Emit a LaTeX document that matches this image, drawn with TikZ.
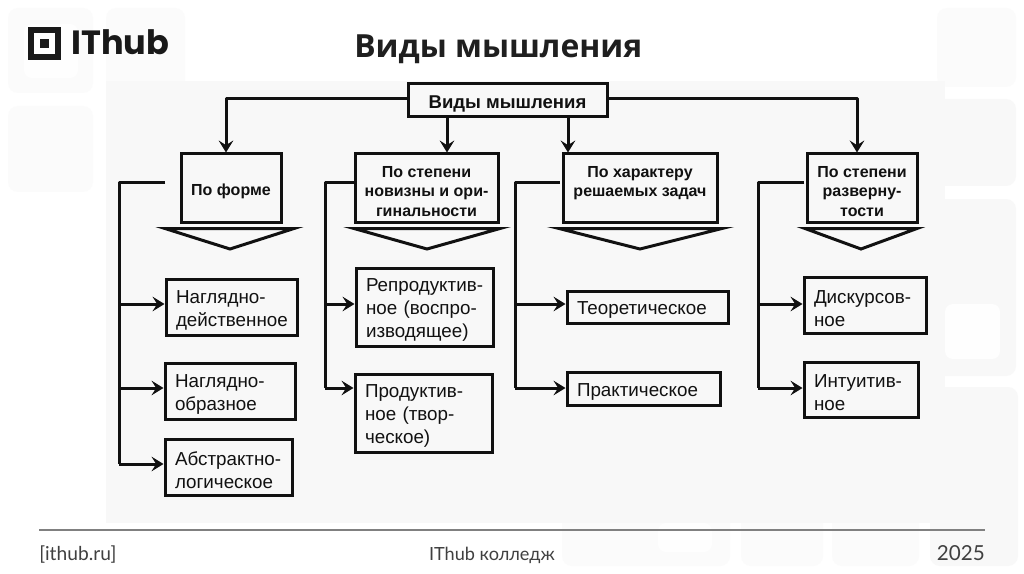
\documentclass[tikz,border=0pt]{standalone}
\usepackage{fontspec}
\setmainfont{Liberation Sans}
\newfontfamily\titlefont{Open Sans}
\newfontfamily\logofont{Poppins}
\newfontfamily\footfont{Lato}
\usetikzlibrary{arrows.meta,calc}
\definecolor{panel}{HTML}{F8F8F8}
\definecolor{tile}{HTML}{FBFBFB}
\definecolor{soft}{HTML}{FEFEFE}
\definecolor{ink}{HTML}{111111}
\tikzset{
  x=0.75pt,y=-0.75pt,
  tilebox/.style={fill=tile,draw=none,rounded corners=7.5pt},
  sidebox/.style={fill=panel,draw=none,rounded corners=7.5pt},
  whitebox/.style={fill=soft,draw=none,rounded corners=6pt},
  headbox/.style 2 args={draw=ink,line width=2.25pt,align=center,inner sep=0pt,
    minimum width=#1*0.75pt,minimum height=#2*0.75pt,font=\fontsize{12}{14.6}\selectfont\bfseries,text=ink},
  leafbox/.style 2 args={draw=ink,line width=2.25pt,align=left,inner sep=0pt,anchor=center,
    text width=#1*0.75pt-15pt,inner xsep=7.5pt,minimum height=#2*0.75pt,font=\fontsize{14.1}{17.2}\selectfont,text=ink},
  conn/.style={draw=ink,line width=2.25pt,line join=round},
  arr/.style={conn,-{Stealth[length=9pt,width=11pt,inset=3.5pt]}},
  chev/.style={draw=ink,line width=2.25pt,line join=miter,fill=panel},
  footer/.style={font=\footfont,text=black!75,inner sep=0pt},
}
\newcommand{\hdstrut}{\rule{0pt}{13pt}}
\newcommand{\lfstrut}{\rule{0pt}{14.5pt}}
\begin{document}
\begin{tikzpicture}
\useasboundingbox (0,0) rectangle (1024,574);
\fill[white] (0,0) rectangle (1024,574);
% faint backdrop
\fill[tilebox] (8,8) rectangle (93,93);
\fill[tilebox] (106,8) rectangle (185,90);
\fill[tilebox] (8,106) rectangle (93,192);
\fill[tilebox] (937,8) rectangle (1016,87);
\fill[sidebox] (930,99) rectangle (1016,186);
\fill[sidebox] (930,199) rectangle (1016,376);
\fill[sidebox] (930,387) rectangle (1018,566);
\fill[tilebox] (562,500) rectangle (730,566);
\fill[tilebox] (741,500) rectangle (823,566);
\fill[tilebox] (832,500) rectangle (919,566);
\fill[panel] (106,81) rectangle (945,523);
\fill[whitebox] (24,24) rectangle (78,78);
\fill[whitebox] (945,304) rectangle (1000,359);
\fill[whitebox] (658,523) rectangle (712,552);
% logo
\draw[black!90,line width=4.5pt] (31,30) rectangle (58,57);
\fill[black!90] (40,39) rectangle (49,48);
\node[anchor=base west,inner sep=0pt,font=\logofont\fontsize{25.2}{28}\selectfont\bfseries,text=black!90] (logo) at (71,55) {IThub};
% title
\node[anchor=base west,inner sep=0pt,font=\titlefont\fontsize{23.9}{28}\selectfont\bfseries,text=black!88] (title) at (354,58) {Виды мышления};
% root
\node[headbox={199}{33},font=\fontsize{13.9}{15}\selectfont\bfseries] (root) at (507.5,100.5) {\rule{0pt}{14.5pt}Виды мышления};
% heads
\node[headbox={100}{68}] (h1) at (231,188) {\hdstrut По форме};
\node[headbox={143}{68}] (h2) at (426.5,188) {\hdstrut По степени\\новизны и ори-\\гинальности};
\node[headbox={154}{68}] (h3) at (640,188) {\hdstrut По характеру\\решаемых задач\\\phantom{x}};
\node[headbox={110}{68}] (h4) at (862,188) {\hdstrut По степени\\разверну-\\тости};
% chevrons
\draw[chev] (165,228.5) -- (294,228.5) -- (230,249) -- cycle;
\draw[chev] (354,228.5) -- (500,228.5) -- (427,249) -- cycle;
\draw[chev] (559,228.5) -- (722,228.5) -- (640,249) -- cycle;
\draw[chev] (805,228.5) -- (917,228.5) -- (861,249) -- cycle;
% leaves
\node[leafbox={131}{56}] (a1) at (231.5,307) {\lfstrut Наглядно-\\действенное};
\node[leafbox={130}{56}] (a2) at (230,391) {\lfstrut Наглядно-\\образное};
\node[leafbox={127}{56}] (a3) at (228.5,467) {\lfstrut Абстрактно-\\логическое};
\node[leafbox={137}{78}] (b1) at (424.5,307) {\lfstrut\mbox{Репродуктив-}\\ное (воспро-\\изводящее)};
\node[leafbox={137}{78}] (b2) at (423.5,413) {\lfstrut Продуктив-\\ное (твор-\\ческое)};
\node[leafbox={161}{32}] (c1) at (647.5,307) {\lfstrut Теоретическое};
\node[leafbox={153}{33}] (c2) at (643.5,388.5) {\lfstrut Практическое};
\node[leafbox={122}{56}] (d1) at (865,305) {\lfstrut Дискурсов-\\ное};
\node[leafbox={114}{55}] (d2) at (861,389.5) {\lfstrut Интуитив-\\ное};
% top connectors
\coordinate (rl) at (226,99);
\coordinate (rr) at (857,99);
\coordinate (rm1) at (447,117);
\coordinate (rm2) at (568,117);
\draw[arr] (root.west |- rl) -- (rl) -- (rl |- h1.north);
\draw[arr] (root.east |- rr) -- (rr) -- (rr |- h4.north);
\draw[arr] (rm1) -- (rm1 |- h2.north);
\draw[arr] (rm2) -- (rm2 |- h3.north);
% bus 1
\coordinate (s1) at (165,183);
\coordinate (t1) at (119,183);
\coordinate (j1a) at (119,304);
\coordinate (j1b) at (119,388);
\coordinate (j1c) at (119,464);
\draw[conn] (s1) -- (t1) -- (j1c);
\draw[arr] (j1a) -- (j1a -| a1.west);
\draw[arr] (j1b) -- (j1b -| a2.west);
\draw[arr] (j1c) -- (j1c -| a3.west);
% bus 2
\coordinate (t2) at (325,183);
\coordinate (j2a) at (325,304);
\coordinate (j2b) at (325,388);
\draw[conn] (t2 -| h2.west) -- (t2) -- (j2b);
\draw[arr] (j2a) -- (j2a -| b1.west);
\draw[arr] (j2b) -- (j2b -| b2.west);
% bus 3
\coordinate (s3) at (560,183);
\coordinate (t3) at (515,183);
\coordinate (j3a) at (515,304);
\coordinate (j3b) at (515,388);
\draw[conn] (s3) -- (t3) -- (j3b);
\draw[arr] (j3a) -- (j3a -| c1.west);
\draw[arr] (j3b) -- (j3b -| c2.west);
% bus 4
\coordinate (s4) at (804,183);
\coordinate (t4) at (758,183);
\coordinate (j4a) at (758,304);
\coordinate (j4b) at (758,388);
\draw[conn] (s4) -- (t4) -- (j4b);
\draw[arr] (j4a) -- (j4a -| d1.west);
\draw[arr] (j4b) -- (j4b -| d2.west);
% footer
\coordinate (fl) at (39,530);
\coordinate (fr) at (985,530);
\draw[black!50,line width=1.5pt] (fl) -- (fr);
\node[footer,anchor=base west,font=\footfont\fontsize{14.4}{16}\selectfont] (f1) at (39,560) {[ithub.ru]};
\node[footer,anchor=base,font=\footfont\fontsize{13.6}{16}\selectfont] (f2) at (492,560) {IThub колледж};
\node[footer,anchor=base east,font=\footfont\fontsize{15.5}{16}\selectfont] (f3) at (985,560) {2025};
\end{tikzpicture}
\end{document}
